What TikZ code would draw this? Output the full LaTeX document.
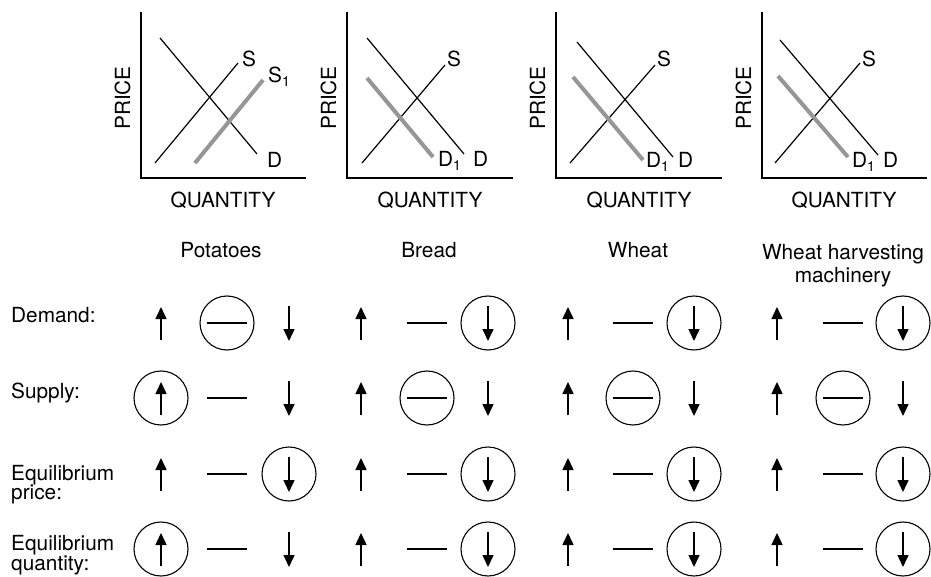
\documentclass[tikz,border=0pt]{standalone}
\usepackage{fontspec}
\setmainfont{TeX Gyre Heros}
\usetikzlibrary{arrows.meta}
\definecolor{shiftgray}{RGB}{150,150,150}
% small lowered index for curve labels (S1, D1)
\newcommand\lowidx[1]{\raisebox{-4pt}{\fontsize{14}{14}\selectfont #1}}

\begin{document}
\begin{tikzpicture}[x=1pt,y=-1pt,
  lbl/.style={font=\fontsize{20.8}{20}\selectfont, inner sep=0pt},
  axisline/.style={line width=1.7pt},
  curveline/.style={line width=1.2pt},
  shiftline/.style={line width=4pt, color=shiftgray},
  symline/.style={line width=1.5pt},
  ring/.style={line width=1.1pt},
  tipped/.style={symline, -{Triangle[width=11pt,length=12pt]}},
  uparr/.pic={\draw[tipped] (0,17) -- (0,-16);},
  downarr/.pic={\draw[tipped] (0,-17) -- (0,18);},
  nochange/.pic={\draw[symline] (-20,0) -- (20,0);}
]
\useasboundingbox (0,0) rectangle (931,577);

% ---------- supply/demand graphs ----------
% Potatoes: supply shifts right
\draw[axisline] (141,12) -- (141,178) -- (306,178);
\draw[curveline] (160,38) -- (257,154);
\draw[curveline] (155,163) -- (238,63);
\draw[shiftline] (195,163) -- (263,80);
\node[lbl, anchor=base west] (g1S) at (242,67) {S};
\node[lbl, anchor=base west] (g1S1) at (268,83) {S\lowidx{1}};
\node[lbl, anchor=base west] (g1D) at (267,168) {D};
\node[lbl, rotate=90, anchor=base] (g1P) at (130,98) {PRICE};
\node[lbl, anchor=base] (g1Q) at (223,208) {QUANTITY};

% Bread: demand shifts left
\draw[axisline] (347,12) -- (347,178) -- (513,178);
\draw[curveline] (367,38) -- (464,154);
\draw[curveline] (362,163) -- (445,65);
\draw[shiftline] (367,78) -- (433,157);
\node[lbl, anchor=base west] (g2S) at (447,67) {S};
\node[lbl, anchor=base west] (g2D1) at (438,167) {D\lowidx{1}};
\node[lbl, anchor=base west] (g2D) at (473,167) {D};
\node[lbl, rotate=90, anchor=base] (g2P) at (336,98) {PRICE};
\node[lbl, anchor=base] (g2Q) at (430,208) {QUANTITY};

% Wheat: demand shifts left
\draw[axisline] (556,12) -- (556,178) -- (722,178);
\draw[curveline] (577,42) -- (673,157);
\draw[curveline] (570,163) -- (655,65);
\draw[shiftline] (573,77) -- (643,160);
\node[lbl, anchor=base west] (g3S) at (657,67) {S};
\node[lbl, anchor=base west] (g3D1) at (646,168) {D\lowidx{1}};
\node[lbl, anchor=base west] (g3D) at (678,168) {D};
\node[lbl, rotate=90, anchor=base] (g3P) at (545,98) {PRICE};
\node[lbl, anchor=base] (g3Q) at (639,208) {QUANTITY};

% Wheat harvesting machinery: demand shifts left
\draw[axisline] (762,12) -- (762,178) -- (927,178);
\draw[curveline] (780,40) -- (878,155);
\draw[curveline] (775,163) -- (860,63);
\draw[shiftline] (778,76) -- (848,157);
\node[lbl, anchor=base west] (g4S) at (862,67) {S};
\node[lbl, anchor=base west] (g4D1) at (852,168) {D\lowidx{1}};
\node[lbl, anchor=base west] (g4D) at (883,168) {D};
\node[lbl, rotate=90, anchor=base] (g4P) at (751,98) {PRICE};
\node[lbl, anchor=base] (g4Q) at (844,208) {QUANTITY};

% ---------- column headings ----------
\node[lbl, anchor=base] (hPot) at (221,258) {Potatoes};
\node[lbl, anchor=base] (hBread) at (429,258) {Bread};
\node[lbl, anchor=base] (hWheat) at (638,258) {Wheat};
\node[lbl, anchor=base] (hMach) at (843,259) {Wheat harvesting};
\node[lbl, anchor=base] (hMach2) at (843,282) {machinery};

% ---------- row labels ----------
\node[lbl, anchor=base west] (rDem) at (11,322) {Demand:};
\node[lbl, anchor=base west] (rSup) at (11,398) {Supply:};
\node[lbl, anchor=base west] (rPri) at (11,480) {Equilibrium};
\node[lbl, anchor=base west] (rPri2) at (11,499) {price:};
\node[lbl, anchor=base west] (rQty) at (11,550) {Equilibrium};
\node[lbl, anchor=base west] (rQty2) at (11,570) {quantity:};

% ---------- up / unchanged / down choices ----------
\foreach \ry in {323,398,474,549}{
  \foreach \xu/\xm/\xd in {161/227/289, 361/427/488, 568/633/694, 777/843/903}{
    \pic at (\xu,\ry) {uparr};
    \pic at (\xm,\ry) {nochange};
    \pic at (\xd,\ry) {downarr};
  }
}

% circled answers
\foreach \cx/\cy in {227/323, 488/323, 694/323, 903/323,
                     161/398, 427/398, 633/398, 843/398,
                     289/474, 488/474, 694/474, 903/474,
                     161/549, 488/549, 694/549, 903/549}{
  \draw[ring] (\cx,\cy) circle[radius=27];
}
\end{tikzpicture}
\end{document}
